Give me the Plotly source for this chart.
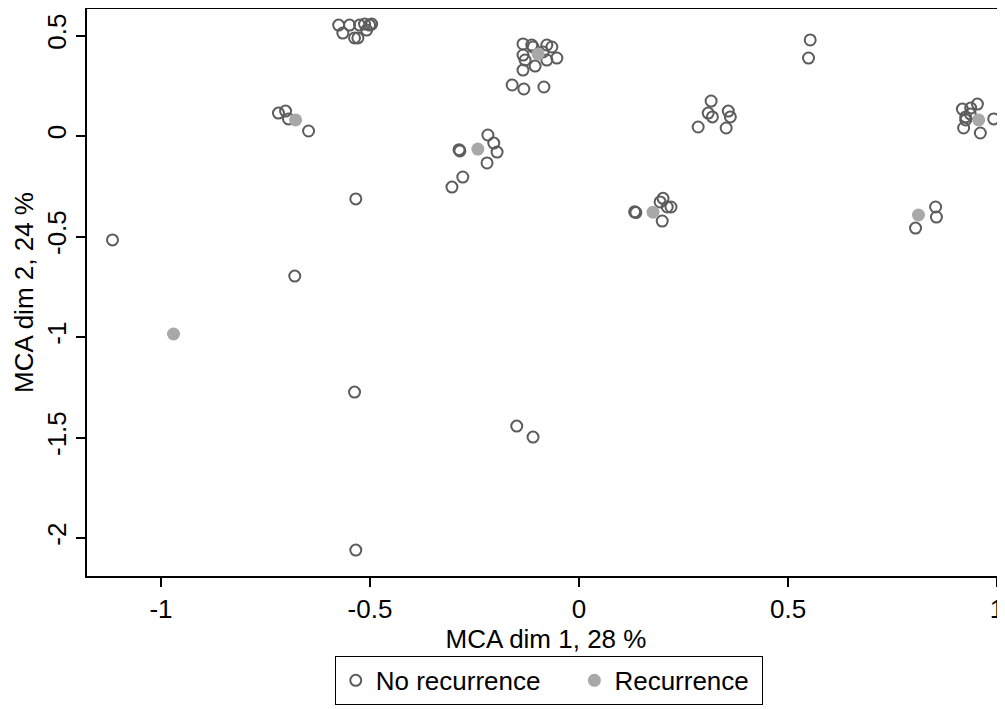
import plotly.graph_objects as go

# No recurrence (open circles)
no_rec_x = [-0.575, -0.549, -0.525, -0.513, -0.501, -0.496, -0.565, -0.537, -0.529, -0.508,
            -0.134, -0.113, -0.110, -0.077, -0.065, -0.053, -0.134, -0.129, -0.105, -0.134,
            -0.077, -0.086, -0.160, -0.132, -0.084,
            -0.719, -0.702, -0.695, -0.647,
            -0.287, -0.285, -0.218, -0.204, -0.196, -0.220, -0.278, -0.304,
            0.316, 0.309, 0.319, 0.357, 0.362, 0.285, 0.352,
            0.553, 0.549,
            0.917, 0.937, 0.953, 0.925, 0.925, 0.920, 0.992, 0.960, 0.936,
            0.133, 0.136, 0.201, 0.194, 0.211, 0.220, 0.199,
            0.853, 0.855, 0.805,
            -1.116, -0.534, -0.680, -0.537, -0.149, -0.110, -0.534]
no_rec_y = [0.552, 0.552, 0.552, 0.557, 0.552, 0.557, 0.512, 0.488, 0.488, 0.527,
            0.458, 0.453, 0.443, 0.453, 0.443, 0.388, 0.403, 0.378, 0.348, 0.328,
            0.378, 0.418, 0.254, 0.234, 0.244,
            0.114, 0.124, 0.085, 0.025,
            -0.068, -0.074, 0.005, -0.035, -0.080, -0.134, -0.204, -0.254,
            0.174, 0.114, 0.095, 0.124, 0.095, 0.045, 0.040,
            0.478, 0.388,
            0.134, 0.139, 0.159, 0.095, 0.080, 0.040, 0.085, 0.015, 0.110,
            -0.377, -0.381, -0.310, -0.328, -0.353, -0.353, -0.423,
            -0.353, -0.403, -0.458,
            -0.517, -0.313, -0.697, -1.274, -1.443, -1.498, -2.060]

# Recurrence (filled)
rec_x = [-0.970, -0.678, -0.242, -0.098, 0.177, 0.812, 0.956]
rec_y = [-0.985, 0.080, -0.065, 0.408, -0.379, -0.393, 0.080]

x_ticks = [-1, -0.5, 0, 0.5, 1]
x_tick_labels = ["-1", "-0.5", "0", "0.5", "1"]
y_ticks = [0.5, 0, -0.5, -1, -1.5, -2]
y_tick_labels = ["0.5", "0", "-0.5", "-1", "-1.5", "-2"]

FONT = "Liberation Sans, Arial, sans-serif"
FS = 26
NB = "\u00a0"

fig = go.Figure()
fig.add_trace(go.Scatter(
    x=no_rec_x, y=no_rec_y, mode="markers", name="No recurrence" + NB * 4,
    marker=dict(symbol="circle-open", size=11, color="#5c5c5c", line=dict(width=2, color="#5c5c5c")),
))
fig.add_trace(go.Scatter(
    x=rec_x, y=rec_y, mode="markers", name="Recurrence" + NB,
    marker=dict(symbol="circle", size=13, color="#a8a8a8", line=dict(width=0)),
))

# page body has an 8px margin; figure is sized/margined to compensate
fig.update_layout(
    width=997, height=701,
    paper_bgcolor="white", plot_bgcolor="white",
    margin=dict(l=79, r=0, t=1, b=133, autoexpand=False),
    font=dict(family=FONT, size=FS, color="black"),
    showlegend=True,
    legend=dict(
        orientation="h", x=0.503, xanchor="center", y=-0.141, yanchor="top",
        bordercolor="black", borderwidth=1, bgcolor="white",
        font=dict(size=FS, family=FONT, color="black"),
    ),
    xaxis=dict(
        range=[-1.177, 1.019], tickvals=x_ticks, ticktext=x_tick_labels,
        showgrid=False, zeroline=False, showline=True, linecolor="black", linewidth=2,
        mirror=True, ticks="outside", ticklen=9, tickwidth=1.5, tickcolor="black",
        title=dict(text="MCA dim 1, 28 %", standoff=3, font=dict(size=FS)),
        tickfont=dict(size=FS),
    ),
    yaxis=dict(
        range=[-2.189, 0.632], tickvals=y_ticks, ticktext=y_tick_labels,
        showgrid=False, zeroline=False, showline=True, linecolor="black", linewidth=2,
        ticks="outside", ticklen=9, tickwidth=1.5, tickcolor="black", tickangle=-90,
        title=dict(text="MCA dim 2, 24 %", standoff=0, font=dict(size=FS)),
        tickfont=dict(size=FS),
    ),
)

fig.write_html("out.html")
